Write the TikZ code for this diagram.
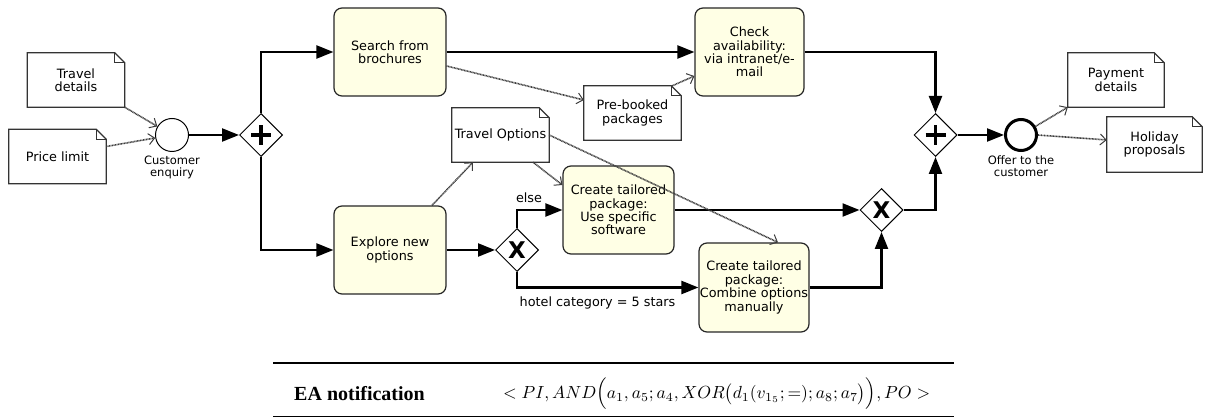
\documentclass[tikz,border=0pt]{standalone}
\usepackage{fontspec}
\setmainfont{DejaVu Sans}
\newfontfamily\tabfont{Liberation Serif}
\usetikzlibrary{shapes.geometric,arrows.meta}
\definecolor{taskfill}{RGB}{255,255,229}
\definecolor{assoc}{RGB}{60,60,60}
\newcommand\docshape[1]{%
  \draw[docline] (#1.north west) -- ([xshift=-10pt]#1.north east) -- ([yshift=-10pt]#1.north east) -- (#1.south east) -- (#1.south west) -- cycle;
  \draw[docline] ([xshift=-10pt]#1.north east) |- ([yshift=-10pt]#1.north east);}
\begin{document}
\begin{tikzpicture}[x=1pt,y=-1pt,
  txt/.style={font=\fontsize{12.8}{13.4}\selectfont, align=center, inner sep=0pt},
  small/.style={font=\fontsize{11.5}{11.8}\selectfont, align=center, inner sep=0pt},
  task/.style={txt, draw=black!85, line width=1.2pt, rounded corners=8pt, fill=taskfill, minimum width=112pt, minimum height=88pt},
  docbox/.style={txt, minimum width=97pt, minimum height=54pt},
  docline/.style={draw=black!80, line width=1.2pt, line join=miter},
  gate/.style={diamond, draw, line width=1pt, minimum width=43pt, minimum height=43pt, inner sep=0pt, fill=white},
  andgate/.style={gate, path picture={
      \draw[line width=3.4pt] ([xshift=-10pt]path picture bounding box.center) -- ([xshift=10pt]path picture bounding box.center);
      \draw[line width=3.4pt] ([yshift=-10pt]path picture bounding box.center) -- ([yshift=10pt]path picture bounding box.center);}},
  xorgate/.style={gate, font=\fontsize{23}{23}\bfseries\selectfont},
  startev/.style={circle, draw, line width=1pt, minimum size=33pt, inner sep=0pt},
  endev/.style={circle, draw, line width=3pt, minimum size=31pt, inner sep=0pt},
  seq/.style={line width=2.3pt, -{Triangle[length=17pt,width=13pt]}},
  assocline/.style={draw=assoc, line width=1.6pt, dash pattern=on 0.9pt off 0.6pt, -{Straight Barb[length=6pt,width=11pt,line width=1pt]}}
]
\useasboundingbox (0,0) rectangle (1215,419);

% data objects
\node[docbox] (travel) at (76,80) {Travel\\details};
\node[docbox] (price) at (57.5,156.5) {Price limit};
\node[docbox] (prebooked) at (632.5,113) {Pre-booked\\packages};
\node[docbox] (options) at (500.5,135) {Travel Options};
\node[docbox, minimum width=96pt] (payment) at (1116,80) {Payment\\details};
\node[docbox, minimum width=95pt, minimum height=55pt] (holiday) at (1154.5,144.5) {Holiday\\proposals};
\docshape{travel}
\docshape{price}
\docshape{prebooked}
\docshape{options}
\docshape{payment}
\docshape{holiday}

% events
\node[startev] (start) at (172,135) {};
\node[small] (startlbl) at (172,167.5) {Customer\\enquiry};
\node[endev] (end) at (1021,135) {};
\node[small] (endlbl) at (1021,166.5) {Offer to the\\customer};

% gateways
\node[andgate] (and1) at (261,135) {};
\node[andgate] (and2) at (935.5,135) {};
\node[xorgate] (xor1) at (517,250) {X};
\node[xorgate] (xor2) at (881.5,210) {X};

% tasks
\node[task] (search) at (390,52) {Search from\\brochures};
\node[task, minimum width=109pt] (check) at (749.5,52) {Check\\availability:\\via intranet/e-\\mail};
\node[task] (explore) at (390,250) {Explore new\\options};
\node[task, minimum width=111pt] (create1) at (618.5,210) {Create tailored\\package:\\Use specific\\software};
\node[task, minimum width=110pt, minimum height=89pt] (create2) at (754,287.5) {Create tailored\\package:\\Combine options\\manually};

% labels
\node[txt] (elselbl) at (529,198) {else};
\node[txt] (hotellbl) at (597.5,303) {hotel category = 5 stars};

% sequence flows
\draw[seq] (start.east) -- (and1.west);
\draw[seq] (and1.north) |- (search.west);
\draw[seq] (and1.south) |- (explore.west);
\draw[seq] (search.east) -- (check.west);
\draw[seq] (check.east) -| (and2.north);
\draw[seq] (explore.east) -- (xor1.west);
\draw[seq] (xor1.north) |- (create1.west);
\draw[seq] (xor1.south) |- (create2.west);
\draw[seq] (create1.east) -- (xor2.west);
\draw[seq] (create2.east) -| (xor2.south);
\draw[seq] (xor2.east) -| (and2.south);
\draw[seq] (and2.east) -- (end.west);

% data associations
\draw[assocline] (travel.south east) -- (start);
\draw[assocline] ([yshift=10pt]price.east) -- (start);
\draw[assocline] ([yshift=-14pt]search.east) -- ([yshift=13pt]prebooked.west);
\draw[assocline] ([xshift=-9pt]prebooked.north east) -- ([yshift=-24pt]check.west);
\draw[assocline] ([xshift=42pt]explore.north) -- ([xshift=-27.5pt]options.south);
\draw[assocline] ([xshift=32.5pt]options.south) -- ([yshift=25pt]create1.west);
\draw[assocline] (options.east) -- ([xshift=24pt]create2.north);
\draw[assocline] (end) -- (payment.south west);
\draw[assocline] (end.east) -- ([yshift=4.5pt]holiday.west);

% table
\draw[line width=2.3pt] (273,363) -- (954,363);
\draw[line width=1pt] (273,416.5) -- (954,416.5);
\node[inner sep=0pt, font=\tabfont\bfseries\fontsize{20}{22}\selectfont] (ealbl) at (359.5,394) {EA notification};
\node[inner sep=0pt, anchor=west] (formula) at (503,394) {\resizebox{427pt}{!}{$<PI, AND\Bigl(a_1,a_5;a_4,XOR\bigl(d_1(v_{1_5};=);a_8;a_7\bigr)\Bigr),PO>$}};
\end{tikzpicture}
\end{document}
